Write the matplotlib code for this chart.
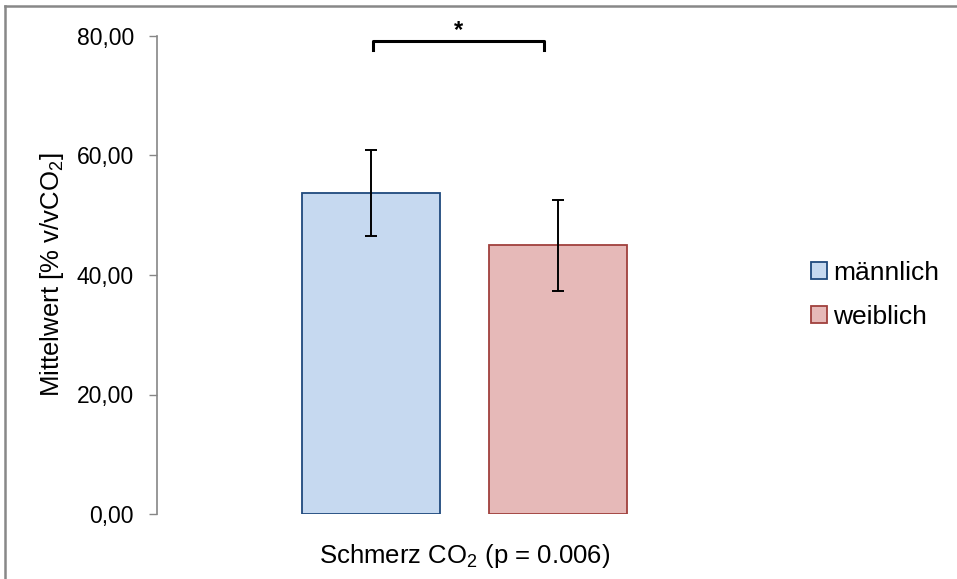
import numpy as np
from matplotlib import pyplot as plt
from matplotlib.lines import Line2D

# data
groups = ['männlich', 'weiblich']
means = [53.8, 45.0]
errors = [7.2, 7.6]
category = 'Schmerz CO$_2$ (p = 0.006)'
y_ticks = [0, 20, 40, 60, 80]
y_tick_labels = ['0,00', '20,00', '40,00', '60,00', '80,00']
sig_label = '*'

face_colors = ['#C6D9F0', '#E6B9B8']
edge_colors = ['#1F497D', '#A0403D']
axis_grey = '#868686'

plt.rcParams['font.family'] = ['Liberation Sans', 'DejaVu Sans']
plt.rcParams['mathtext.fontset'] = 'custom'
plt.rcParams['mathtext.rm'] = 'Liberation Sans'
plt.rcParams['mathtext.it'] = 'Liberation Sans:italic'
plt.rcParams['mathtext.bf'] = 'Liberation Sans:bold'

W, H = 957, 579
fig = plt.figure(figsize=(W/100, H/100), dpi=100)
ax = fig.add_axes([157/W, 1-514/H, (772-157)/W, (514-36)/H])

offsets = [-0.152, 0.152]
bar_width = 0.2244
x_pos = [0.5 + o for o in offsets]

for x, m, e, fc, ec, lab in zip(x_pos, means, errors, face_colors, edge_colors, groups):
    ax.bar(x, m, width=bar_width, color=fc, edgecolor=ec, linewidth=1.3, label=lab, zorder=2)
    ax.errorbar(x, m, yerr=e, fmt='none', ecolor='black', elinewidth=1.4,
                capsize=4.5, capthick=1.4, zorder=3)

ax.set_xlim(0, 1)
ax.set_ylim(0, 80)
ax.set_yticks(y_ticks)
ax.set_yticklabels(y_tick_labels)
ax.set_xticks([])
ax.tick_params(axis='y', direction='out', length=6, width=1, color=axis_grey,
               labelsize=16.5, pad=10.5)

for side in ['top', 'right', 'bottom']:
    ax.spines[side].set_visible(False)
ax.spines['left'].set_color(axis_grey)
ax.spines['left'].set_linewidth(1.2)

ax.set_ylabel('Mittelwert [% v/vCO$_\\mathrm{2}$]', fontsize=18.5, labelpad=8)
ax.set_xlabel(category, fontsize=18.5, labelpad=20)

# significance bracket
br_left = x_pos[0] + 0.003
br_right = x_pos[1] - 0.022
br_y, leg_y = 79.2, 77.7
ax.plot([br_left, br_left, br_right, br_right], [leg_y, br_y, br_y, leg_y],
        color='black', linewidth=2.2, solid_joinstyle='round', clip_on=False)
ax.text((br_left + br_right)/2, 79.0, sig_label, ha='center', va='bottom',
        fontsize=17, fontweight='bold', clip_on=False)

leg = ax.legend(loc='center left', bbox_to_anchor=(811/W, 1-295/H),
                bbox_transform=fig.transFigure, frameon=False, fontsize=19,
                handlelength=0.6, handleheight=0.6, handletextpad=0.25,
                labelspacing=0.75, borderpad=0, borderaxespad=0)

# chart area border (top and left visible)
fig.add_artist(Line2D([5/W, 5/W], [0, 1-5.5/H], color='#888888', linewidth=1.8,
                      transform=fig.transFigure))
fig.add_artist(Line2D([5/W, 1], [1-5.5/H, 1-5.5/H], color='#888888', linewidth=1.8,
                      transform=fig.transFigure))

plt.savefig('out.png', dpi=100)
